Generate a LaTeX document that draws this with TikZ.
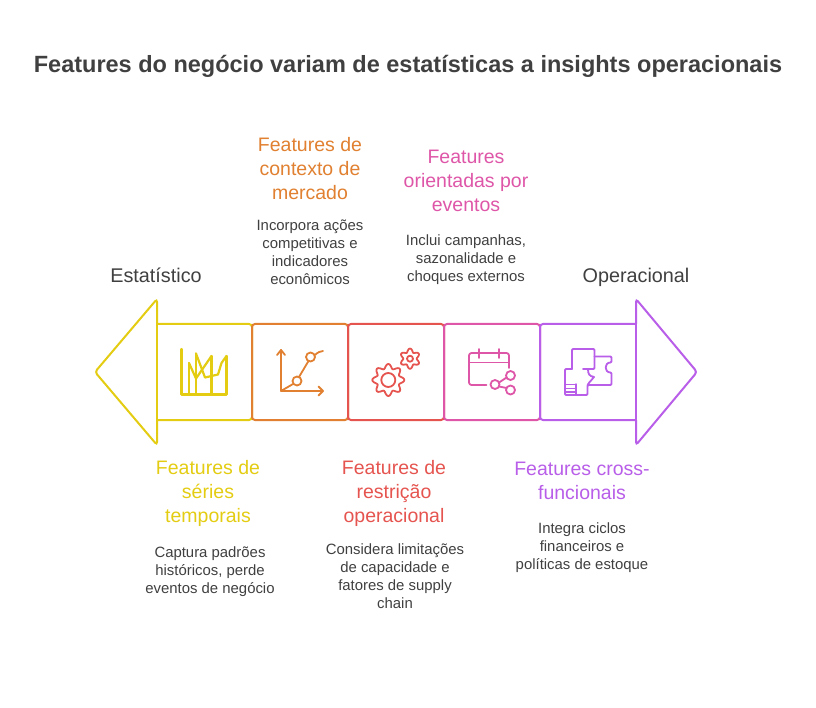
\documentclass[tikz,border=0pt]{standalone}
\usepackage{fontspec}
\setmainfont{Liberation Sans}
\definecolor{titlegray}{HTML}{404040}
\definecolor{yellowc}{HTML}{E3CC12}
\definecolor{orangec}{HTML}{E08030}
\definecolor{redc}{HTML}{E5544F}
\definecolor{pinkc}{HTML}{DE56A8}
\definecolor{purplec}{HTML}{B85EE8}
\tikzset{
    headtext/.style={align=center, font=\fontsize{19.5}{24}\selectfont},
    desctext/.style={align=center, text=titlegray, font=\fontsize{14.9}{18}\selectfont},
    endtext/.style={anchor=base, text=titlegray, font=\fontsize{19.8}{24}\selectfont},
    stageline/.style={line width=2pt, rounded corners=3pt},
    iconline/.style={line width=1.8pt, line join=round, line cap=round},
}
\newcommand{\gearicon}[6]{% cx, cy, teeth, mean radius, tooth height, hole radius
    \draw[iconline, smooth] plot[domain=0:360, samples=121]
        ({#1+(#4+#5*cos(#3*(\x-90)))*cos(\x)}, {#2+(#4+#5*cos(#3*(\x-90)))*sin(\x)}) -- cycle;
    \draw[iconline] (#1,#2) circle (#6);
}
\begin{document}
\begin{tikzpicture}[x=1pt, y=-1pt]
    \useasboundingbox (0,0) rectangle (816,708);

    % Title
    \node[text=titlegray, font=\fontsize{23.5}{28}\selectfont\bfseries] (title) at (408,66)
        {Features do negócio variam de estatísticas a insights operacionais};

    % Arrow ends
    \draw[stageline, draw=yellowc] (157,324) -- (157,299) -- (95,372) -- (157,445) -- (157,420);
    \draw[stageline, draw=purplec] (636,324) -- (636,299) -- (697,372) -- (636,445) -- (636,420);

    % Stages
    \draw[stageline, draw=yellowc] (157,324) -- (252,324) -- (252,420) -- (157,420);
    \foreach \xa/\xb/\col in {252/348/orangec, 348/444/redc, 444/540/pinkc} {
        \draw[stageline, draw=\col] (\xa,324) rectangle (\xb,420);
    }
    \draw[stageline, draw=purplec] (636,324) -- (540,324) -- (540,420) -- (636,420);
    \draw[line width=2pt, draw=yellowc] (157,323) -- (157,421);
    \draw[line width=2pt, draw=purplec] (636,323) -- (636,421);

    % Time series icon
    \begin{scope}[draw=yellowc, iconline/.append style={line width=2.2pt}]
        \draw[iconline] (181.5,349) -- (181.5,394.5) -- (226.5,394.5) -- (226.5,356);
        \draw[iconline] (189,394.5) -- (189,363);
        \draw[iconline] (196,394.5) -- (196,353.5);
        \draw[iconline] (211.5,394.5) -- (211.5,356);
        \draw[iconline] (189,363) -- (196,378.5) -- (211.5,356);
        \draw[iconline] (196,353.5) -- (205,377.5) -- (218,374.5) -- (221.5,363) -- (226.5,356);
    \end{scope}

    % Context icon
    \begin{scope}[draw=orangec]
        \draw[iconline] (281,350) -- (281,391) -- (323,391);
        \draw[iconline] (277,355) -- (281,350) -- (285,355);
        \draw[iconline] (318.5,386.5) -- (323,391) -- (318.5,395.5);
        \draw[iconline] (297,381) circle (4.5);
        \draw[iconline] (310.5,357) circle (4.5);
        \draw[iconline] (281,391) -- (293,384);
        \draw[iconline] (299,377) -- (308.5,361);
        \draw[iconline] (315,355) .. controls (318,352) and (320,351.5) .. (323,351);
    \end{scope}

    % Gears icon
    \begin{scope}[draw=redc]
        \gearicon{388.3}{380}{8}{13.8}{2.2}{7}
        \gearicon{410}{358.7}{6}{8.4}{1.7}{3}
    \end{scope}

    % Calendar icon
    \begin{scope}[draw=pinkc]
        \draw[iconline, rounded corners=2.5pt] (486.5,385) -- (469,385) -- (469,353) -- (509,353) -- (509,368);
        \draw[iconline] (469,362.5) -- (509,362.5);
        \draw[iconline] (479,349) -- (479,358);
        \draw[iconline] (499,349) -- (499,358);
        \draw[iconline] (495,384.5) circle (4.5);
        \draw[iconline] (510.5,375.5) circle (4.5);
        \draw[iconline] (510.5,390) circle (4.5);
        \draw[iconline] (499,382.5) -- (506.5,377.5);
        \draw[iconline] (499,386.5) -- (506.5,388);
    \end{scope}

    % Puzzle plan icon
    \begin{scope}[draw=purplec]
        \draw[iconline, rounded corners=1pt] (572,369) -- (572,349) -- (594.5,349) -- (594.5,369) -- (583,369);
        \draw[iconline, rounded corners=1pt] (594.5,356.5) -- (611.5,356.5) -- (611.5,362.5)
            .. controls (604,362.5) and (604,372.5) .. (611.5,372.5) -- (611.5,385) -- (587.5,385) -- (587.5,395)
            -- (565,395) -- (565,369) -- (572,369);
        \draw[iconline] (588,369) .. controls (588,374) and (589,376) .. (594,377)
            .. controls (592,380) and (590,381) .. (587.5,385);
        \draw[iconline, line width=1.4pt] (576,384) -- (576,395);
        \foreach \ya in {384.3, 388.3, 392} {
            \draw[iconline, line width=1.4pt] (565,\ya) -- (576,\ya);
        }
    \end{scope}

    % Ends
    \node[endtext] (statistic) at (156,283) {Estatístico};
    \node[endtext] (operational) at (636,283) {Operacional};

    % Upper labels
    \node[headtext, text=orangec] (contexthead) at (310,169) {Features de\\contexto de\\mercado};
    \node[desctext] (contextdesc) at (310,252) {Incorpora ações\\competitivas e\\indicadores\\econômicos};
    \node[headtext, text=pinkc] (eventhead) at (466,181) {Features\\orientadas por\\eventos};
    \node[desctext] (eventdesc) at (466,260) {Inclui campanhas,\\sazonalidade e\\choques externos};

    % Lower labels
    \node[headtext, text=yellowc] (serieshead) at (208,493.5) {Features de\\séries\\temporais};
    \node[desctext] (seriesdesc) at (210,572) {Captura padrões\\históricos, perde\\eventos de negócio};
    \node[headtext, text=redc] (limithead) at (394,493.5) {Features de\\restrição\\operacional};
    \node[desctext] (limitdesc) at (395,576) {Considera limitações\\de capacidade e\\fatores de supply\\chain};
    \node[headtext, text=purplec] (crosshead) at (582,481) {Features cross-\\funcionais};
    \node[desctext] (crossdesc) at (582,548) {Integra ciclos\\financeiros e\\políticas de estoque};
\end{tikzpicture}
\end{document}
